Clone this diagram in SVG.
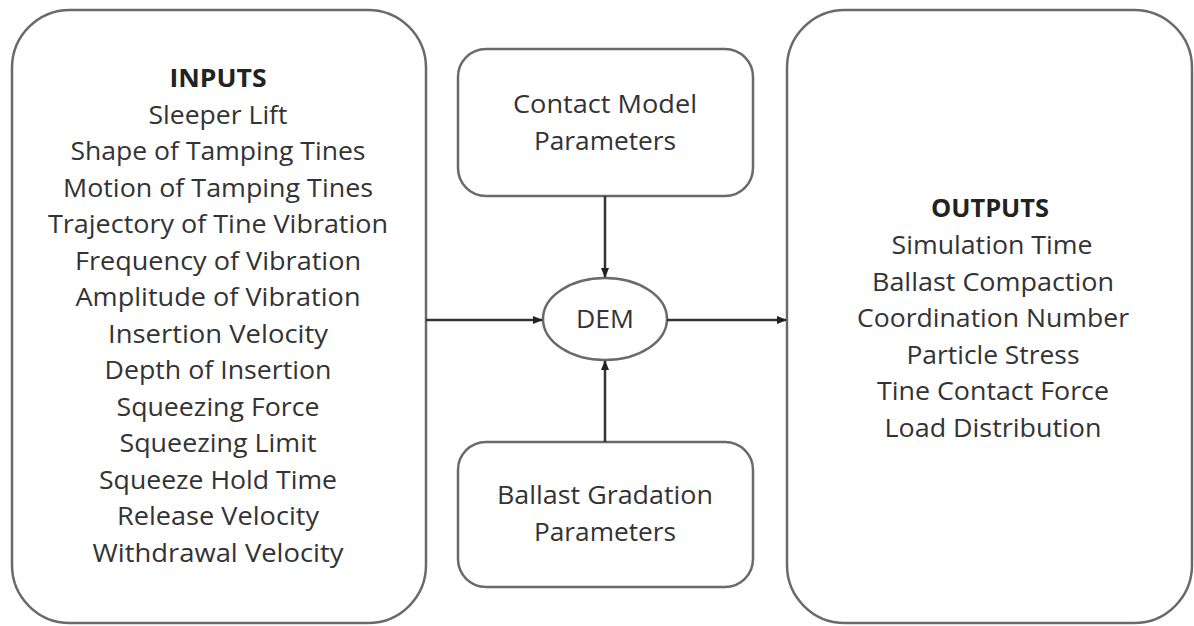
<svg xmlns="http://www.w3.org/2000/svg" width="1194" height="626" viewBox="0 0 1194 626">
<defs>
<style>
.box{fill:#fff;stroke:#6a6a6a;stroke-width:2.5}
.t{font-family:"Open Sans","Liberation Sans",sans-serif;font-size:25px;fill:#333;text-anchor:middle}
.h{font-weight:bold;fill:#222}
.c{stroke:#333;stroke-width:2.5;fill:none;marker-end:url(#ah)}
</style>
<marker id="ah" viewBox="0 0 10 10" refX="9" refY="5" markerWidth="4" markerHeight="4" orient="auto" markerUnits="strokeWidth">
<path d="M0,1 L10,5 L0,9 z" fill="#222"/>
</marker>
</defs>
<rect width="1194" height="626" fill="#fff"/>
<g id="inputs">
<rect class="box" x="12" y="10" width="414" height="613" rx="58" ry="58"/>
<text class="t h" x="218" y="87" textLength="97" lengthAdjust="spacingAndGlyphs">INPUTS</text>
<text class="t" x="218" y="124" textLength="139" lengthAdjust="spacingAndGlyphs">Sleeper Lift</text>
<text class="t" x="218" y="160" textLength="295" lengthAdjust="spacingAndGlyphs">Shape of Tamping Tines</text>
<text class="t" x="218" y="197" textLength="310" lengthAdjust="spacingAndGlyphs">Motion of Tamping Tines</text>
<text class="t" x="218" y="233" textLength="340" lengthAdjust="spacingAndGlyphs">Trajectory of Tine Vibration</text>
<text class="t" x="218" y="270" textLength="286" lengthAdjust="spacingAndGlyphs">Frequency of Vibration</text>
<text class="t" x="218" y="306" textLength="285" lengthAdjust="spacingAndGlyphs">Amplitude of Vibration</text>
<text class="t" x="218" y="343" textLength="220" lengthAdjust="spacingAndGlyphs">Insertion Velocity</text>
<text class="t" x="218" y="379" textLength="227" lengthAdjust="spacingAndGlyphs">Depth of Insertion</text>
<text class="t" x="218" y="416" textLength="203" lengthAdjust="spacingAndGlyphs">Squeezing Force</text>
<text class="t" x="218" y="452" textLength="197" lengthAdjust="spacingAndGlyphs">Squeezing Limit</text>
<text class="t" x="218" y="489" textLength="238" lengthAdjust="spacingAndGlyphs">Squeeze Hold Time</text>
<text class="t" x="218" y="525" textLength="202" lengthAdjust="spacingAndGlyphs">Release Velocity</text>
<text class="t" x="218" y="562" textLength="251" lengthAdjust="spacingAndGlyphs">Withdrawal Velocity</text>
</g>
<g id="contact">
<rect class="box" x="458" y="49" width="295" height="147" rx="28" ry="28"/>
<text class="t" x="605" y="113" textLength="184" lengthAdjust="spacingAndGlyphs">Contact Model</text>
<text class="t" x="605" y="150" textLength="142" lengthAdjust="spacingAndGlyphs">Parameters</text>
</g>
<g id="ballast">
<rect class="box" x="458" y="442" width="295" height="145" rx="28" ry="28"/>
<text class="t" x="605" y="504" textLength="216" lengthAdjust="spacingAndGlyphs">Ballast Gradation</text>
<text class="t" x="605" y="541" textLength="142" lengthAdjust="spacingAndGlyphs">Parameters</text>
</g>
<g id="dem">
<ellipse class="box" cx="605" cy="319" rx="62" ry="41"/>
<text class="t" x="605" y="328" textLength="58" lengthAdjust="spacingAndGlyphs">DEM</text>
</g>
<g id="outputs">
<rect class="box" x="787" y="10" width="405" height="613" rx="58" ry="58"/>
<text class="t h" x="990" y="217" textLength="118" lengthAdjust="spacingAndGlyphs">OUTPUTS</text>
<text class="t" x="992" y="254" textLength="201" lengthAdjust="spacingAndGlyphs">Simulation Time</text>
<text class="t" x="993" y="291" textLength="242" lengthAdjust="spacingAndGlyphs">Ballast Compaction</text>
<text class="t" x="993" y="327" textLength="272" lengthAdjust="spacingAndGlyphs">Coordination Number</text>
<text class="t" x="993" y="364" textLength="173" lengthAdjust="spacingAndGlyphs">Particle Stress</text>
<text class="t" x="993" y="400" textLength="232" lengthAdjust="spacingAndGlyphs">Tine Contact Force</text>
<text class="t" x="993" y="437" textLength="217" lengthAdjust="spacingAndGlyphs">Load Distribution</text>
</g>
<g id="connectors">
<line class="c" x1="426" y1="320" x2="542" y2="320"/>
<line class="c" x1="667" y1="320" x2="786" y2="320"/>
<line class="c" x1="605" y1="196" x2="605" y2="277"/>
<line class="c" x1="605" y1="442" x2="605" y2="361"/>
</g>
</svg>
